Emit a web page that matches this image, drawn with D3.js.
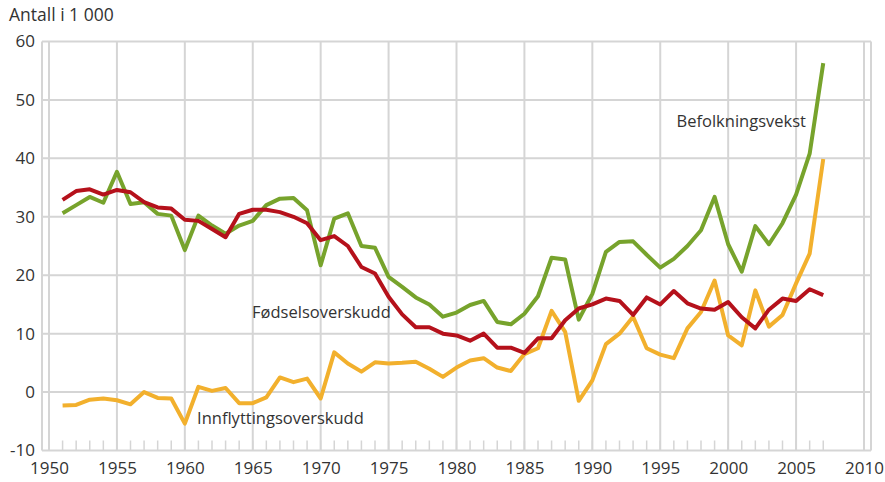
<!DOCTYPE html>
<html>
<head>
<meta charset="utf-8">
<script src="https://cdn.jsdelivr.net/npm/d3@7"></script>
<style>
body { margin: 0; background: #fff; }
svg text { font-family: "Open Sans", sans-serif; fill: #333; }
.grid line { stroke: #d5d5d5; stroke-width: 2; }
.line { fill: none; stroke-width: 4; stroke-linejoin: round; }
</style>
</head>
<body>
<div id="chart"></div>
<script>
// Befolkningsvekst, fødselsoverskudd og innflyttingsoverskudd 1951-2007
var years = d3.range(1951, 2008);

var befolkningsvekst = [30.6, 32.0, 33.4, 32.4, 37.7, 32.2, 32.5, 30.5, 30.2, 24.3,
  30.2, 28.5, 27.1, 28.5, 29.3, 32.0, 33.1, 33.2, 31.1, 21.7,
  29.7, 30.6, 25.0, 24.7, 19.7, 18.0, 16.2, 15.0, 12.9, 13.6,
  14.9, 15.6, 12.0, 11.6, 13.4, 16.4, 23.0, 22.7, 12.4, 16.8,
  24.0, 25.7, 25.8, 23.5, 21.3, 22.8, 25.0, 27.7, 33.4, 25.3,
  20.6, 28.4, 25.3, 28.9, 33.8, 40.8, 56.3];

var fodselsoverskudd = [32.9, 34.4, 34.7, 33.8, 34.6, 34.2, 32.5, 31.6, 31.4, 29.5,
  29.3, 27.9, 26.5, 30.5, 31.2, 31.2, 30.8, 30.0, 28.9, 26.0,
  26.7, 25.0, 21.4, 20.3, 16.3, 13.3, 11.1, 11.1, 10.0, 9.7,
  8.8, 10.0, 7.6, 7.6, 6.7, 9.2, 9.2, 12.3, 14.3, 15.0,
  16.0, 15.6, 13.2, 16.2, 15.0, 17.3, 15.2, 14.3, 14.1, 15.4,
  12.8, 10.9, 14.1, 16.0, 15.6, 17.6, 16.6];

var innflyttingsoverskudd = [-2.3, -2.2, -1.3, -1.1, -1.4, -2.1, 0.0, -1.0, -1.1, -5.4,
  0.9, 0.2, 0.7, -1.9, -1.9, -0.9, 2.5, 1.7, 2.3, -1.1,
  6.8, 4.9, 3.5, 5.1, 4.9, 5.0, 5.2, 4.0, 2.6, 4.2,
  5.4, 5.8, 4.2, 3.6, 6.5, 7.5, 13.9, 10.3, -1.5, 2.0,
  8.2, 10.0, 12.9, 7.5, 6.4, 5.8, 10.9, 13.7, 19.1, 9.7,
  8.0, 17.4, 11.2, 13.2, 18.6, 23.7, 39.9];

var xTicks = d3.range(1950, 2011, 5);
var yTicks = d3.range(-10, 61, 10);

var series = [
  {name: "Innflyttingsoverskudd", values: innflyttingsoverskudd, color: "#f2b02d", labelAt: [1960.9, -4.4]},
  {name: "Befolkningsvekst", values: befolkningsvekst, color: "#77a32c", labelAt: [1996.2, 46.4]},
  {name: "Fødselsoverskudd", values: fodselsoverskudd, color: "#b5111b", labelAt: [1964.95, 13.7]}
];

var width = 885, height = 482;
var plot = {left: 42, right: 871, top: 41.5, bottom: 450.5};

var x = d3.scaleLinear()
    .domain([1950, 2010])
    .range([49, 864]);

var y = d3.scaleLinear()
    .domain([-10, 60])
    .range([plot.bottom, plot.top]);

var svg = d3.select("#chart").append("svg")
    .attr("width", width)
    .attr("height", height);

var grid = svg.append("g").attr("class", "grid");

grid.selectAll(".h").data(yTicks).enter().append("line")
    .attr("x1", plot.left).attr("x2", plot.right)
    .attr("y1", function(d) { return y(d); })
    .attr("y2", function(d) { return y(d); });

grid.selectAll(".v").data(xTicks).enter().append("line")
    .attr("x1", function(d) { return x(d); })
    .attr("x2", function(d) { return x(d); })
    .attr("y1", plot.top).attr("y2", plot.bottom);

// plot border left/right
grid.selectAll(".b").data([plot.left, plot.right]).enter().append("line")
    .attr("x1", function(d) { return d; }).attr("x2", function(d) { return d; })
    .attr("y1", plot.top).attr("y2", plot.bottom);

// small year ticks at the bottom
grid.selectAll(".t").data(years).enter().append("line")
    .attr("x1", function(d) { return x(d); })
    .attr("x2", function(d) { return x(d); })
    .attr("y1", plot.bottom - 10).attr("y2", plot.bottom)
    .style("stroke-width", 1.5);

var xAxis = d3.axisBottom(x)
    .tickValues(xTicks)
    .tickFormat(d3.format("d"))
    .tickSize(0)
    .tickPadding(11);

var yAxis = d3.axisLeft(y)
    .tickValues(yTicks)
    .tickFormat(function(d) { return String(d); })
    .tickSize(0)
    .tickPadding(7);

svg.append("g")
    .attr("transform", "translate(0," + plot.bottom + ")")
    .call(xAxis)
    .call(function(g) { g.select(".domain").remove(); })
    .selectAll("text").style("font-size", "17px");

svg.append("g")
    .attr("transform", "translate(" + plot.left + ",0)")
    .call(yAxis)
    .call(function(g) { g.select(".domain").remove(); })
    .selectAll("text").style("font-size", "17px");

svg.selectAll("text").attr("fill", null);

svg.append("text")
    .attr("x", 9)
    .attr("y", 21)
    .style("font-size", "17.5px")
    .text("Antall i 1 000");

var line = d3.line()
    .x(function(d, i) { return x(years[i]); })
    .y(function(d) { return y(d); });

svg.selectAll(".line").data(series).enter().append("path")
    .attr("class", "line")
    .attr("stroke", function(d) { return d.color; })
    .attr("d", function(d) { return line(d.values); });

svg.selectAll(".lbl").data(series).enter().append("text")
    .attr("x", function(d) { return x(d.labelAt[0]); })
    .attr("y", function(d) { return y(d.labelAt[1]); })
    .attr("dy", "0.35em")
    .style("font-size", "16.5px")
    .text(function(d) { return d.name; });
</script>
</body>
</html>
